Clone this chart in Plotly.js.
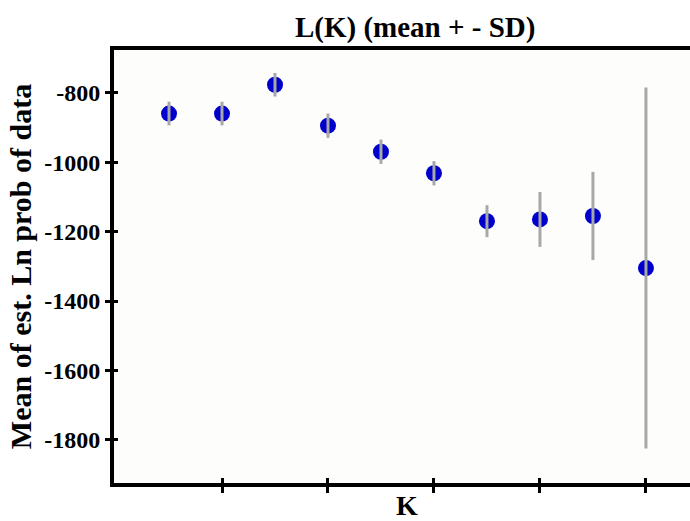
<!DOCTYPE html>
<html>
<head>
<meta charset="utf-8">
<script src="https://cdn.plot.ly/plotly-3.0.1.min.js"></script>
<style>
html,body{margin:0;padding:0;width:690px;height:521px;overflow:hidden;background:#fff;}
#chart{width:710px;height:521px;}
</style>
</head>
<body>
<div id="chart"></div>
<script>
const K = [1, 2, 3, 4, 5, 6, 7, 8, 9, 10];
const meanLnP = [-860, -860, -777, -895, -970, -1032, -1170, -1165, -1155, -1305];
const sdLnP = [34, 34, 34, 35, 35, 35, 46, 79, 127, 520];
const xTickVals = [2, 4, 6, 8, 10];
const yTickVals = [-800, -1000, -1200, -1400, -1600, -1800];
const yTickText = ['-800', '-1000', '-1200', '-1400', '-1600', '-1800'];

const serif = 'Liberation Serif, Times New Roman, serif';

const markers = {
  x: K, y: meanLnP, type: 'scatter', mode: 'markers',
  marker: {size: 16, color: '#0000cd', line: {width: 0}},
  hoverinfo: 'skip', showlegend: false
};
const bars = {
  x: K, y: meanLnP, type: 'scatter', mode: 'markers',
  marker: {size: 1, color: 'rgba(0,0,0,0)'},
  error_y: {type: 'data', array: sdLnP, visible: true, color: '#a8a8a8', thickness: 3, width: 0},
  hoverinfo: 'skip', showlegend: false
};
const xr = [-0.038, 11.02];
const yr = [-1924, -677];
const layout = {
  width: 710, height: 521,
  margin: {l: 114, r: 10, t: 50, b: 38},
  paper_bgcolor: '#ffffff',
  plot_bgcolor: '#fdfdfc',
  title: {text: 'L(K) (mean + - SD)', font: {family: serif, size: 29, color: '#000', weight: 'bold'},
          xref: 'paper', x: 0.514, xanchor: 'center', yref: 'container', y: 0.948, yanchor: 'middle'},
  xaxis: {
    range: xr, showgrid: false, zeroline: false,
    showline: true, linecolor: '#000', linewidth: 4, mirror: true,
    ticks: 'outside', ticklen: 6, tickwidth: 3, tickcolor: '#000',
    tickvals: xTickVals, showticklabels: false,
    title: {text: 'K', font: {family: serif, size: 28, color: '#000', weight: 'bold'}, standoff: 9}
  },
  xaxis2: {
    overlaying: 'x', anchor: 'y', side: 'bottom', range: xr,
    showgrid: false, zeroline: false, showline: false,
    ticks: 'inside', ticklen: 5, tickwidth: 3, tickcolor: '#000',
    tickvals: xTickVals, showticklabels: false
  },
  yaxis: {
    range: yr, showgrid: false, zeroline: false,
    showline: true, linecolor: '#000', linewidth: 4, mirror: true,
    ticks: 'outside', ticklen: 5, tickwidth: 3, tickcolor: '#000',
    tickvals: yTickVals, ticktext: yTickText,
    tickfont: {family: serif, size: 24, color: '#000', weight: 'bold'},
    title: {text: 'Mean of est. Ln prob of data', font: {family: serif, size: 30, color: '#000', weight: 'bold'}, standoff: 5}
  },
  yaxis2: {
    overlaying: 'y', anchor: 'x', side: 'left', range: yr,
    showgrid: false, zeroline: false, showline: false,
    ticks: 'inside', ticklen: 4, tickwidth: 3, tickcolor: '#000',
    tickvals: yTickVals, showticklabels: false
  }
};
const ghostX = {x: [], y: [], xaxis: 'x2', yaxis: 'y2', type: 'scatter', mode: 'markers', showlegend: false, hoverinfo: 'skip'};
Plotly.newPlot('chart', [ghostX, markers, bars], layout, {displayModeBar: false, staticPlot: true});
</script>
</body>
</html>
